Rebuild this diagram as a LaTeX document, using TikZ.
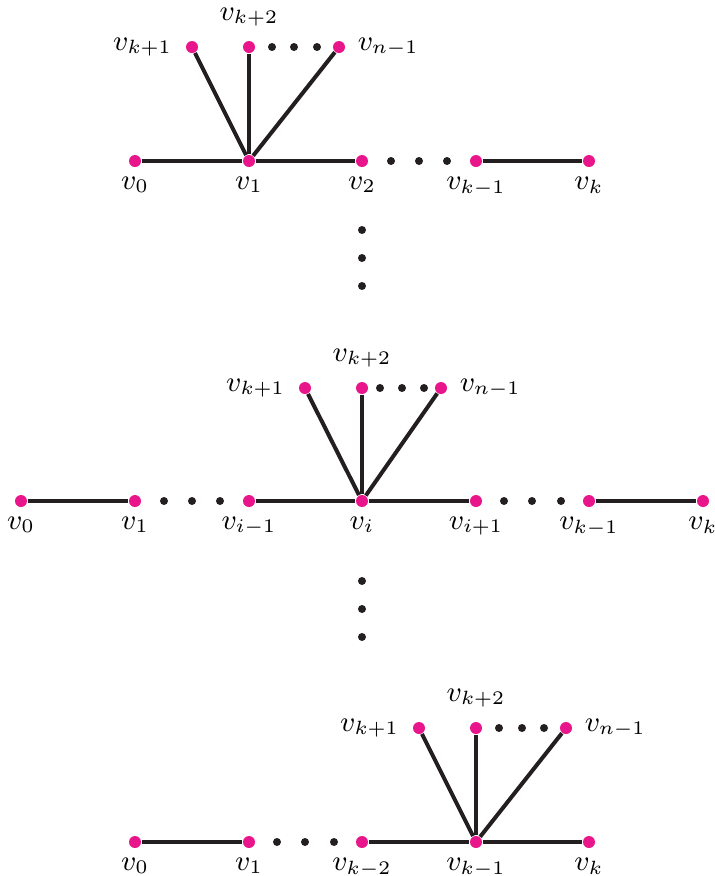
\documentclass[tikz,border=0pt]{standalone}
\definecolor{pk}{RGB}{233,22,139}
\definecolor{ink}{RGB}{35,31,32}
\tikzset{
  vtx/.style={circle,fill=pk,inner sep=0pt,minimum size=3.75pt},
  sdot/.style={circle,fill=ink,inner sep=0pt,minimum size=2.5pt},
  edge/.style={draw=ink,line width=1.25pt},
  every label/.style={font=\small,inner sep=3.1pt},
  label distance=-0.3pt,
  lbl left/.style={label={[label distance=0.9pt]left:#1}},
  lbl above/.style={label={[label distance=1pt]above:#1}},
  lbl right/.style={label={[label distance=0.5pt]right:#1}}
}
\begin{document}
\begin{tikzpicture}[x=0.3125pt,y=-0.3125pt]
\useasboundingbox (0,0) rectangle (715,876);
% ---------- top ----------
\node[vtx,label=below:$v_0$] (a0) at (135,161) {};
\node[vtx,label=below:$v_1$] (a1) at (249,161) {};
\node[vtx,label=below:$v_2$] (a2) at (362,161) {};
\node[vtx,label=below:$v_{k-1}$] (ak1) at (476,161) {};
\node[vtx,label=below:$v_k$] (ak) at (589,161) {};
\node[vtx,lbl left=$v_{k+1}$] (au1) at (192,47) {};
\node[vtx,lbl above=$v_{k+2}$] (au2) at (249,47) {};
\node[vtx,lbl right=$v_{n-1}$] (au3) at (339,47) {};
\draw[edge] (a0) -- (a1) -- (a2);
\draw[edge] (ak1) -- (ak);
\draw[edge] (a1) -- (au1);
\draw[edge] (a1) -- (au2);
\draw[edge] (a1) -- (au3);
\foreach \x [count=\n] in {272,294,317} \node[sdot] (at\n) at (\x,47) {};
\foreach \x [count=\n] in {391,419,447} \node[sdot] (ar\n) at (\x,161) {};
\foreach \y [count=\n] in {230,258,286} \node[sdot] (vd\n) at (362,\y) {};
% ---------- middle ----------
\node[vtx,label=below:$v_0$] (b0) at (21,501) {};
\node[vtx,label=below:$v_1$] (b1) at (135,501) {};
\node[vtx,label=below:$v_{i-1}$] (bim) at (249,501) {};
\node[vtx,label=below:$v_i$] (bi) at (362,501) {};
\node[vtx,label=below:$v_{i+1}$] (bip) at (476,501) {};
\node[vtx,label=below:$v_{k-1}$] (bk1) at (589,501) {};
\node[vtx,label=below:$v_k$] (bk) at (703,501) {};
\node[vtx,lbl left=$v_{k+1}$] (bu1) at (305,388) {};
\node[vtx,lbl above=$v_{k+2}$] (bu2) at (362,388) {};
\node[vtx,lbl right=$v_{n-1}$] (bu3) at (441,388) {};
\draw[edge] (b0) -- (b1);
\draw[edge] (bim) -- (bi) -- (bip);
\draw[edge] (bk1) -- (bk);
\draw[edge] (bi) -- (bu1);
\draw[edge] (bi) -- (bu2);
\draw[edge] (bi) -- (bu3);
\foreach \x [count=\n] in {380,402,424} \node[sdot] (bt\n) at (\x,388) {};
\foreach \x [count=\n] in {164,192,220} \node[sdot] (bl\n) at (\x,501) {};
\foreach \x [count=\n] in {504,532,561} \node[sdot] (br\n) at (\x,501) {};
\foreach \y [count=\n] in {581,609,637} \node[sdot] (wd\n) at (362,\y) {};
% ---------- bottom ----------
\node[vtx,label=below:$v_0$] (c0) at (135,842) {};
\node[vtx,label=below:$v_1$] (c1) at (249,842) {};
\node[vtx,label=below:$v_{k-2}$] (ck2) at (362,842) {};
\node[vtx,label=below:$v_{k-1}$] (ck1) at (476,842) {};
\node[vtx,label=below:$v_k$] (ck) at (589,842) {};
\node[vtx,lbl left=$v_{k+1}$] (cu1) at (419,728) {};
\node[vtx,lbl above=$v_{k+2}$] (cu2) at (476,728) {};
\node[vtx,lbl right=$v_{n-1}$] (cu3) at (566,728) {};
\draw[edge] (c0) -- (c1);
\draw[edge] (ck2) -- (ck1) -- (ck);
\draw[edge] (ck1) -- (cu1);
\draw[edge] (ck1) -- (cu2);
\draw[edge] (ck1) -- (cu3);
\foreach \x [count=\n] in {499,522,544} \node[sdot] (ct\n) at (\x,728) {};
\foreach \x [count=\n] in {277,305,334} \node[sdot] (cr\n) at (\x,842) {};
\end{tikzpicture}
\end{document}
